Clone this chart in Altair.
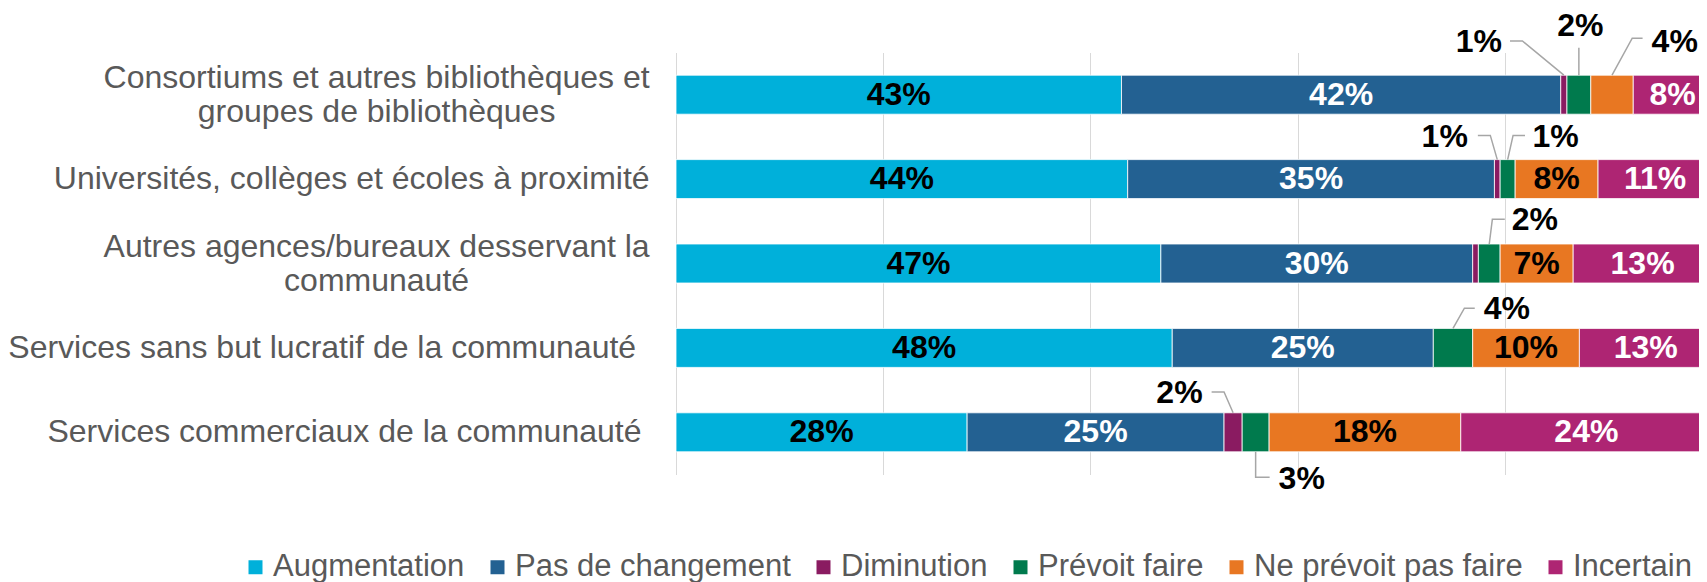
import altair as alt
import pandas as pd

# ---------------- data ----------------
categories = [
    "Consortiums et autres bibliothèques et\ngroupes de bibliothèques",
    "Universités, collèges et écoles à proximité",
    "Autres agences/bureaux desservant la\ncommunauté",
    "Services sans but lucratif de la communauté",
    "Services commerciaux de la communauté",
]
series = ["Augmentation", "Pas de changement", "Diminution",
          "Prévoit faire", "Ne prévoit pas faire", "Incertain"]

augmentation = [43.0, 43.6, 46.8, 47.9, 28.1]
pas_de_changement = [42.4, 35.4, 30.1, 25.2, 24.8]
diminution = [0.6, 0.55, 0.55, 0.0, 1.75]
prevoit_faire = [2.3, 1.45, 2.1, 3.8, 2.6]
ne_prevoit_pas_faire = [4.1, 8.0, 7.05, 10.3, 18.5]
incertain = [7.6, 11.0, 13.4, 12.8, 24.25]

augmentation_labels = ["43%", "44%", "47%", "48%", "28%"]
pas_de_changement_labels = ["42%", "35%", "30%", "25%", "25%"]
diminution_labels = ["1%", "1%", "", "", "2%"]
prevoit_faire_labels = ["2%", "1%", "2%", "4%", "3%"]
ne_prevoit_pas_faire_labels = ["4%", "8%", "7%", "10%", "18%"]
incertain_labels = ["8%", "11%", "13%", "13%", "24%"]

values = [augmentation, pas_de_changement, diminution,
          prevoit_faire, ne_prevoit_pas_faire, incertain]
labels = [augmentation_labels, pas_de_changement_labels, diminution_labels,
          prevoit_faire_labels, ne_prevoit_pas_faire_labels, incertain_labels]

# ---------------- style / layout ----------------
colors = ["#00B0DA", "#236192", "#8A1B61", "#007A4D", "#E87722", "#AE2573"]
dark_text_series = {"Augmentation", "Ne prévoit pas faire"}
FONT = "Liberation Sans"
GRAY = "#595959"
LEADER = "#A6A6A6"
GRID = "#D9D9D9"

BAR_PX = 39
ROW_PX = 84.4
PX_PER_PCT = 10.36
PAD_LEFT = 668
PLOT_W = 1023
PLOT_H = 5 * ROW_PX
CAT_LINE_H = 34
bar_half = BAR_PX / 2 / ROW_PX

# category label centres, in x-axis units (%)
cat_label_x = [-28.9, -31.3, -28.9, -34.15, -32.0]

# callouts: row, series index, text x (%), text y offset (rows), elbow points, bar side
callouts = [
    (0, 2, 77.5, -0.62, [(80.5, -0.637), (81.7, -0.637)], "top"),
    (0, 3, 87.3, -0.81, [(None, -0.555)], "top"),
    (0, 4, 96.4, -0.62, [(93.3, -0.669), (92.3, -0.669)], "top"),
    (1, 2, 74.2, -0.495, [(77.4, -0.518), (78.6, -0.518)], "top"),
    (1, 3, 84.9, -0.495, [(81.95, -0.518), (80.8, -0.518)], "top"),
    (2, 3, 82.9, -0.512, [(80.0, -0.524), (78.8, -0.524)], "top"),
    (3, 3, 80.2, -0.46, [(77.1, -0.47), (76.1, -0.47)], "top"),
    (4, 2, 48.6, -0.464, [(51.7, -0.477), (52.9, -0.477)], "top"),
    (4, 3, 60.4, 0.555, [(57.3, 0.533), (None, 0.533)], "bottom"),
]

# ---------------- tables ----------------
seg_rows = []
for r in range(len(categories)):
    cum = 0.0
    for s, name in enumerate(series):
        v = values[s][r]
        seg_rows.append(dict(row=r, series=name, start=cum, end=cum + v,
                             mid=cum + v / 2, value=v, label=labels[s][r],
                             dark=int(name in dark_text_series)))
        cum += v
seg = pd.DataFrame(seg_rows)
bars_df = seg[seg.value > 0]
inside_df = seg[(seg.value >= 5) & (seg.label != "")]

text_rows, line_rows = [], []
for cid, (r, s, tx, tdy, elbow, side) in enumerate(callouts):
    rec = seg[(seg.row == r) & (seg.series == series[s])].iloc[0]
    text_rows.append(dict(x=tx, y=r + tdy, label=rec.label))
    pts = [(rec.mid if ex is None else ex, r + ey) for ex, ey in elbow]
    pts.append((rec.mid, r + (-bar_half if side == "top" else bar_half)))
    for k, (px, py) in enumerate(pts):
        line_rows.append(dict(cid=cid, k=k, x=px, y=py))
callout_text_df = pd.DataFrame(text_rows)
leader_df = pd.DataFrame(line_rows)
cat_df = pd.DataFrame(dict(
    cat=categories, lx=cat_label_x,
    ly=[r - (c.count("\n")) * CAT_LINE_H / 2 / ROW_PX for r, c in enumerate(categories)],
))

# ---------------- chart ----------------
xscale = alt.Scale(domain=[0, 100], range=[0, 100 * PX_PER_PCT], nice=False, zero=False,
                   padding=0)
yscale = alt.Scale(domain=[-0.5, 4.5], range=[0, PLOT_H], nice=False, zero=False, padding=0)
xaxis = alt.Axis(values=[0, 20, 40, 60, 80, 100], grid=True, gridColor=GRID, gridWidth=1,
                 labels=False, ticks=False, domain=False, title=None)


def X(field):
    return alt.X(f"{field}:Q", scale=xscale, axis=xaxis)


def Y(field):
    return alt.Y(f"{field}:Q", scale=yscale, axis=None)


bars = alt.Chart(bars_df).mark_bar(orient="horizontal", size=BAR_PX, stroke="white",
                                   strokeWidth=0.8).encode(
    x=X("start"), x2="end", y=Y("row"),
    color=alt.Color("series:N", scale=alt.Scale(domain=series, range=colors),
                    legend=alt.Legend(title=None, orient="none", legendX=-436, legendY=499,
                                      direction="horizontal", symbolType="square",
                                      symbolSize=196, symbolStrokeWidth=0,
                                      labelFont=FONT, labelFontSize=31, labelColor=GRAY,
                                      labelLimit=0, columnPadding=17, labelOffset=2)),
)

inside_text = alt.Chart(inside_df).mark_text(font=FONT, fontSize=32, fontWeight="bold",
                                             baseline="middle", align="center").encode(
    x=X("mid"), y=Y("row"), text="label:N",
    color=alt.condition(alt.datum.dark == 1, alt.value("#000000"), alt.value("#FFFFFF")),
)

leaders = alt.Chart(leader_df).mark_line(color=LEADER, strokeWidth=1.5).encode(
    x=X("x"), y=Y("y"), detail="cid:N", order="k:Q",
)

callout_text = alt.Chart(callout_text_df).mark_text(font=FONT, fontSize=32, fontWeight="bold",
                                                    baseline="middle", align="center",
                                                    color="#000000").encode(
    x=X("x"), y=Y("y"), text="label:N",
)

cat_text = alt.Chart(cat_df).mark_text(font=FONT, fontSize=32, color=GRAY, lineBreak="\n",
                                       lineHeight=CAT_LINE_H, baseline="middle",
                                       align="center").encode(
    x=X("lx"), y=Y("ly"), text="cat:N",
)

chart = alt.layer(bars, inside_text, leaders, callout_text, cat_text).properties(
    width=PLOT_W, height=PLOT_H,
    autosize=alt.AutoSizeParams(type="none"),
    padding={"left": PAD_LEFT, "top": 44.5, "right": 0, "bottom": 574 - 44.5 - PLOT_H},
).configure_view(stroke=None)

chart.save("out.html", embed_options={"renderer": "svg", "actions": False})
